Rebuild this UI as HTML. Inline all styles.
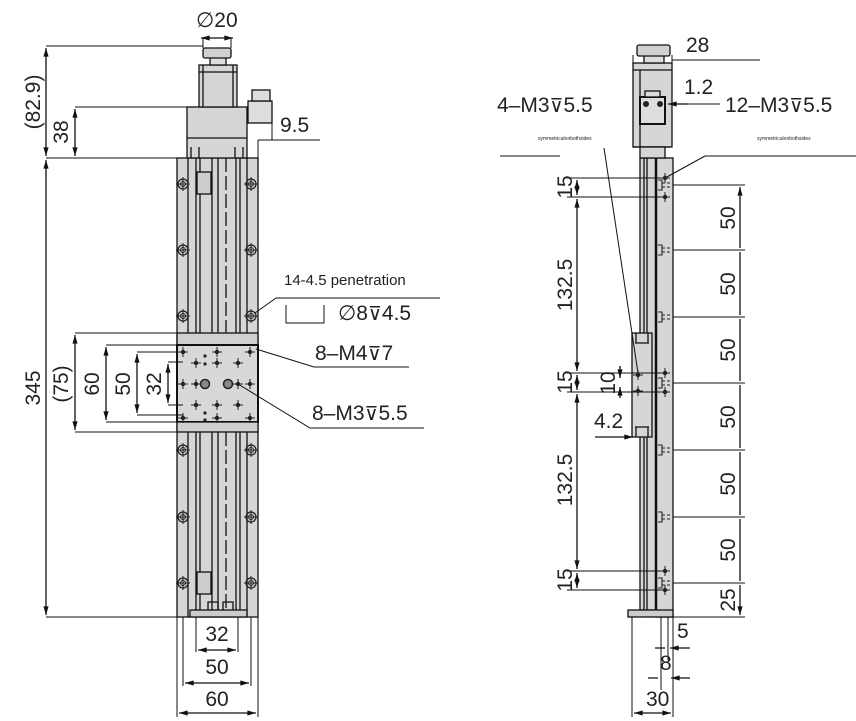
<!DOCTYPE html>
<html><head><meta charset="utf-8"><style>
html,body{margin:0;padding:0;background:#fff}
svg{display:block}
text{font-family:"Liberation Sans Narrow","Liberation Sans",sans-serif;fill:#222}
.d{font-size:21px}
.s{font-family:"DejaVu Sans",sans-serif;font-size:19px}
</style></head><body>
<svg width="856" height="721" viewBox="0 0 856 721" xmlns="http://www.w3.org/2000/svg">
<defs>
<marker id="a" viewBox="0 0 10 6" refX="10" refY="3" markerWidth="10" markerHeight="4" orient="auto-start-reverse"><path d="M0,0L10,3L0,6z" fill="#111"/></marker>
<g id="hole"><circle r="5" fill="none" stroke="#222" stroke-width="1.3"/><circle r="2.5" fill="none" stroke="#222"/><path d="M-7,0H7M0,-7V7" stroke="#222"/></g>
<g id="pt"><circle r="2.2" fill="#222"/><path d="M-5,0H5M0,-5V5" stroke="#222"/></g>
<g id="th"><path d="M0,-5h4v10h-4M4,-2h3M4,2h3M9,-2h3M9,2h3" fill="none" stroke="#222" stroke-width="1.1"/></g>
</defs>
<g stroke="#111" stroke-width="1.3" fill="none">
<!-- LEFT VIEW -->
<rect x="177" y="158" width="81" height="459" fill="#d6d6d6"/>
<path d="M188,158V617M196,158V333M200,158V333M212,158V333M218,158V333M236,158V333M240,158V333M247,158V617M196,432V610M200,432V610M212,432V610M218,432V610M236,432V610M240,432V610"/>
<path d="M226,158V333M226,432V610" stroke-dasharray="14 4"/>
<rect x="177" y="333" width="81" height="12" fill="#d0d0d0"/>
<rect x="177" y="345" width="81" height="77" fill="#d8d8d8" stroke-width="2"/>
<rect x="177" y="422" width="81" height="10" fill="#d0d0d0"/>
<rect x="190" y="610" width="57" height="7" fill="#ccc"/>
<path d="M208,610v-8h10v8M223,610v-8h10v8"/>
<rect x="197" y="172" width="14" height="22" fill="#ccc"/><rect x="197" y="572" width="14" height="22" fill="#ccc"/>
<!-- motor -->
<rect x="187" y="107" width="60" height="51" fill="#d6d6d6"/>
<path d="M187,138H247M191,147v11M243,147v11M199,147v11M235,147v11"/>
<rect x="199" y="65" width="38" height="42" fill="#d6d6d6"/>
<path d="M203,65V107M233,65V107M199,72h38"/>
<rect x="210" y="57" width="16" height="8" fill="#ddd"/>
<rect x="203" y="48" width="28" height="10" rx="2" fill="#d0d0d0"/>
<rect x="248" y="101" width="24" height="22" fill="#ddd"/>
<rect x="252" y="90" width="18" height="11" fill="#ddd"/>
<!-- left dims -->
<path d="M46,46H203M75,107H187M46,158H177M46,617H177" stroke-width="1"/>
<path d="M46,48V156" marker-start="url(#a)" marker-end="url(#a)"/>
<path d="M75,109V156" marker-start="url(#a)" marker-end="url(#a)"/>
<path d="M46,160V615" marker-start="url(#a)" marker-end="url(#a)"/>
<path d="M75,333H177M75,432H177M106,345H177M106,422H177M137,352H183M137,415H183M168,362H183M168,405H183" stroke-width="1"/>
<path d="M75,335V430" marker-start="url(#a)" marker-end="url(#a)"/>
<path d="M106,347V420" marker-start="url(#a)" marker-end="url(#a)"/>
<path d="M137,354V413" marker-start="url(#a)" marker-end="url(#a)"/>
<path d="M168,364V403" marker-start="url(#a)" marker-end="url(#a)"/>
<path d="M203,38V48M231,38V48" stroke-width="1"/>
<path d="M201,38H233" marker-start="url(#a)" marker-end="url(#a)"/>
<path d="M272,110V140M258,140V165M258,140H272M272,140H320" stroke-width="1"/>
<!-- bottom dims -->
<path d="M196,617V652M238,617V652M183,617V686M251,617V686M177,617V717M258,617V717" stroke-width="1"/>
<path d="M198,650H236" marker-start="url(#a)" marker-end="url(#a)"/>
<path d="M185,683H249" marker-start="url(#a)" marker-end="url(#a)"/>
<path d="M179,713H256" marker-start="url(#a)" marker-end="url(#a)"/>
<!-- leaders left -->
<path d="M255,313L276,298H440M286,305v18h38v-18" stroke-width="1"/>
<path d="M256,349L314,367H409" stroke-width="1"/>
<path d="M238,384L310,428H424" stroke-width="1"/>
<!-- RIGHT VIEW -->
<rect x="640" y="158" width="16" height="452" fill="#d6d6d6"/>
<path d="M644,158V610M647,158V610"/>
<rect x="656" y="158" width="17" height="459" fill="#d6d6d6" stroke-width="1.3"/>
<path d="M656,158V617" stroke-width="2.5"/>
<rect x="632" y="333" width="20" height="104" fill="#d6d6d6"/>
<path d="M635,343h14M635,427h14M636,333v10M648,333v10M636,427v10M648,427v10"/>
<rect x="628" y="610" width="45" height="7" fill="#ccc"/>
<rect x="633" y="63" width="39" height="84" fill="#d6d6d6"/>
<path d="M633,70h39M640,70V147M633,147h37"/>
<rect x="640" y="97" width="25" height="27" fill="#ddd" stroke-width="2"/>
<rect x="645" y="91" width="15" height="6" fill="#ddd"/>
<rect x="640" y="147" width="25" height="11" fill="#d6d6d6"/>
<rect x="644" y="54" width="20" height="9" fill="#ddd"/>
<rect x="637" y="45" width="33" height="11" rx="2" fill="#d0d0d0"/>
<!-- right dims -->
<path d="M633,55V70M672,55V70M672,60H760" stroke-width="1"/>
<path d="M672,104H720" stroke-width="1"/>
<path d="M567,178H661M567,197H661M567,373H661M567,392H661M567,571H661M567,590H661" stroke-width="1"/>
<path d="M577,180V195" marker-start="url(#a)" marker-end="url(#a)"/>
<path d="M577,199V371" marker-start="url(#a)" marker-end="url(#a)"/>
<path d="M577,375V390" marker-start="url(#a)" marker-end="url(#a)"/>
<path d="M577,394V569" marker-start="url(#a)" marker-end="url(#a)"/>
<path d="M577,573V588" marker-start="url(#a)" marker-end="url(#a)"/>
<path d="M673,185H745M673,250H745M673,317H745M673,383H745M673,450H745M673,517H745M673,583H745M673,617H745" stroke-width="1"/>
<path d="M740,187V248M740,252V315M740,319V381M740,385V448M740,452V515M740,519V581M740,585V615" marker-start="url(#a)" marker-end="url(#a)"/>
<path d="M620,366V378" marker-end="url(#a)"/><path d="M620,398V387" marker-end="url(#a)"/>
<path d="M595,437H633" marker-end="url(#a)"/>
<path d="M632,617V717M673,617V717M661,617V690M668,617V660" stroke-width="1"/>
<path d="M634,713H671" marker-start="url(#a)" marker-end="url(#a)"/>
<path d="M648,678H658M690,678H671" marker-end="url(#a)"/>
<path d="M655,648H665M690,648H670" marker-end="url(#a)"/>
<!-- leaders right -->
<path d="M500,156H560" stroke-width="1"/>
<path d="M604,148L638,373" stroke-width="1"/>
<path d="M705,156H856M705,156L665,178" stroke-width="1"/>
<path d="M688,104H668" marker-end="url(#a)"/>
</g>
<g>
<use href="#hole" x="183" y="184"/><use href="#hole" x="251" y="184"/>
<use href="#hole" x="183" y="250"/><use href="#hole" x="251" y="250"/>
<use href="#hole" x="183" y="316"/><use href="#hole" x="251" y="316"/>
<use href="#hole" x="183" y="450"/><use href="#hole" x="251" y="450"/>
<use href="#hole" x="183" y="517"/><use href="#hole" x="251" y="517"/>
<use href="#hole" x="183" y="583"/><use href="#hole" x="251" y="583"/>
<use href="#pt" x="183" y="352"/><use href="#pt" x="217" y="352"/><use href="#pt" x="250" y="352"/>
<use href="#pt" x="196" y="363"/><use href="#pt" x="217" y="363"/><use href="#pt" x="238" y="363"/>
<use href="#pt" x="183" y="384"/><use href="#pt" x="196" y="384"/><use href="#pt" x="238" y="384"/><use href="#pt" x="250" y="384"/>
<use href="#pt" x="196" y="405"/><use href="#pt" x="217" y="405"/><use href="#pt" x="238" y="405"/>
<use href="#pt" x="183" y="418"/><use href="#pt" x="217" y="418"/><use href="#pt" x="250" y="418"/>
<circle cx="205" cy="384" r="4.5" fill="#888" stroke="#222" stroke-width="1.5"/>
<circle cx="228" cy="384" r="4.5" fill="#888" stroke="#222" stroke-width="1.5"/>
<circle cx="205" cy="356" r="1.6" fill="#222"/><circle cx="205" cy="364" r="1.6" fill="#222"/>
<circle cx="205" cy="413" r="1.6" fill="#222"/><circle cx="205" cy="420" r="1.6" fill="#222"/>
<use href="#th" x="658" y="185"/><use href="#th" x="658" y="250"/><use href="#th" x="658" y="317"/>
<use href="#th" x="658" y="383"/><use href="#th" x="658" y="450"/><use href="#th" x="658" y="517"/><use href="#th" x="658" y="583"/>
<use href="#pt" x="665" y="178"/><use href="#pt" x="665" y="197"/><use href="#pt" x="665" y="373"/><use href="#pt" x="665" y="392"/><use href="#pt" x="665" y="571"/><use href="#pt" x="665" y="590"/>
<use href="#pt" x="638" y="375"/><use href="#pt" x="638" y="391"/>
<circle cx="646" cy="104" r="3" fill="#222"/><circle cx="660" cy="104" r="3" fill="#222"/>
</g>
<text class="d" x="196" y="27">∅20</text>
<text class="d" x="280" y="132">9.5</text>
<text class="d" transform="translate(40,102) rotate(-90)" text-anchor="middle">(82.9)</text>
<text class="d" transform="translate(68,132) rotate(-90)" text-anchor="middle">38</text>
<text class="d" transform="translate(40,388) rotate(-90)" text-anchor="middle">345</text>
<text class="d" transform="translate(68,384) rotate(-90)" text-anchor="middle">(75)</text>
<text class="d" transform="translate(99,384) rotate(-90)" text-anchor="middle">60</text>
<text class="d" transform="translate(130,384) rotate(-90)" text-anchor="middle">50</text>
<text class="d" transform="translate(161,384) rotate(-90)" text-anchor="middle">32</text>
<text class="d" x="217" y="641" text-anchor="middle">32</text>
<text class="d" x="217" y="674" text-anchor="middle">50</text>
<text class="d" x="217" y="706" text-anchor="middle">60</text>
<text x="284" y="285" style="font-size:15px;font-family:'Liberation Sans',sans-serif">14-4.5 penetration</text>
<text class="d" x="338" y="320">∅8<tspan class="s">⊽</tspan>4.5</text>
<text class="d" x="315" y="360">8–M4<tspan class="s">⊽</tspan>7</text>
<text class="d" x="312" y="420">8–M3<tspan class="s">⊽</tspan>5.5</text>
<text class="d" x="686" y="52">28</text>
<text class="d" x="684" y="94">1.2</text>
<text class="d" x="497" y="112">4–M3<tspan class="s">⊽</tspan>5.5</text>
<text class="d" x="725" y="112">12–M3<tspan class="s">⊽</tspan>5.5</text>
<text x="538" y="140" style="font-size:5px">symmetricalonbothsides</text>
<text x="757" y="140" style="font-size:5px">symmetricalonbothsides</text>
<text class="d" transform="translate(572,187) rotate(-90)" text-anchor="middle">15</text>
<text class="d" transform="translate(572,285) rotate(-90)" text-anchor="middle">132.5</text>
<text class="d" transform="translate(572,382) rotate(-90)" text-anchor="middle">15</text>
<text class="d" transform="translate(572,480) rotate(-90)" text-anchor="middle">132.5</text>
<text class="d" transform="translate(572,580) rotate(-90)" text-anchor="middle">15</text>
<text class="d" transform="translate(615,383) rotate(-90)" text-anchor="middle">10</text>
<text class="d" x="594" y="428">4.2</text>
<text class="d" transform="translate(735,218) rotate(-90)" text-anchor="middle">50</text>
<text class="d" transform="translate(735,284) rotate(-90)" text-anchor="middle">50</text>
<text class="d" transform="translate(735,350) rotate(-90)" text-anchor="middle">50</text>
<text class="d" transform="translate(735,417) rotate(-90)" text-anchor="middle">50</text>
<text class="d" transform="translate(735,484) rotate(-90)" text-anchor="middle">50</text>
<text class="d" transform="translate(735,550) rotate(-90)" text-anchor="middle">50</text>
<text class="d" transform="translate(735,600) rotate(-90)" text-anchor="middle">25</text>
<text class="d" x="677" y="638">5</text>
<text class="d" x="660" y="670">8</text>
<text class="d" x="646" y="706">30</text>
</svg>
</body></html>
